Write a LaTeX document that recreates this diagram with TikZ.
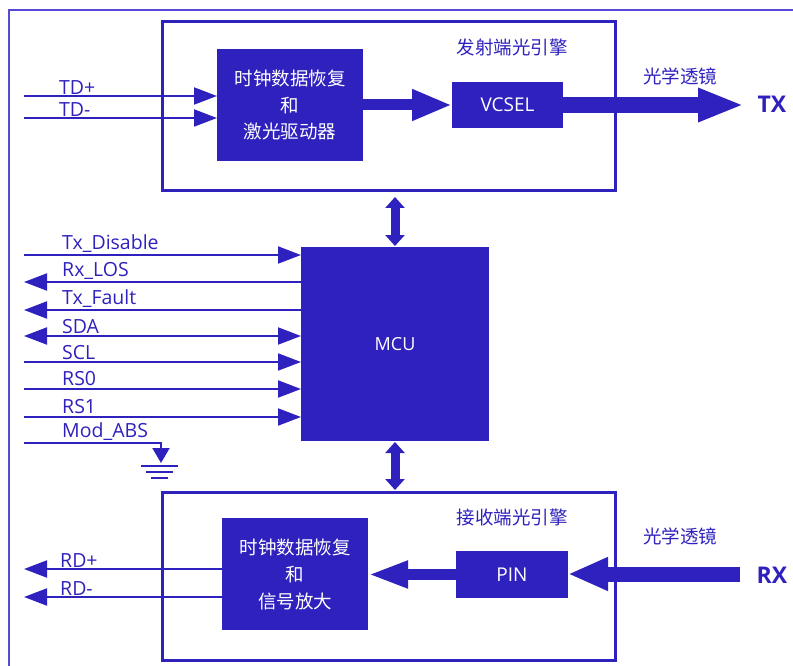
\documentclass[tikz,border=0pt]{standalone}
\usepackage{fontspec}
\setmainfont{Open Sans}
\newfontfamily\cjk{Noto Sans CJK SC}
\usetikzlibrary{arrows.meta}
\definecolor{mainblue}{RGB}{47,33,189}
\definecolor{frameblue}{RGB}{84,74,212}
\begin{document}
\begin{tikzpicture}[x=1pt,y=-1pt,
  modbox/.style={draw=mainblue, line width=3pt, inner sep=0pt, outer sep=0pt},
  blk/.style={fill=mainblue, text=white, inner sep=0pt, outer sep=0pt, align=center, font=\cjk\fontsize{18.5}{26.5}\selectfont},
  latinblk/.style={font=\fontsize{19}{22}\selectfont},
  lbl/.style={text=mainblue, inner sep=0pt, font=\fontsize{19.5}{22}\selectfont, anchor=base west},
  clbl/.style={text=mainblue, inner sep=0pt, font=\cjk\fontsize{18.5}{22}\selectfont},
  boldlbl/.style={text=mainblue, inner sep=0pt, font=\bfseries\fontsize{23}{26}\selectfont},
  sigtip/.tip={Triangle[length=23pt,width=17pt]},
  sig/.style={draw=mainblue, line width=2pt, -sigtip},
  sigl/.style={draw=mainblue, line width=2pt, sigtip-},
  sigb/.style={draw=mainblue, line width=2pt, sigtip-sigtip},
  bustip/.tip={Triangle[length=11pt,width=19pt]},
  bus/.style={draw=mainblue, line width=9pt, bustip-bustip},
]
\useasboundingbox (0,0) rectangle (793,666);
% outer frame
\draw[frameblue, line width=1.5pt] (9,666) -- (9,10) -- (793,10);

% ---------- TX engine ----------
\node[modbox, minimum width=453pt, minimum height=169pt] (txe) at (388.5,106.5) {};
\node[blk, minimum width=146pt, minimum height=112pt] (cdr1) at (290,105) {时钟数据恢复\\和\\激光驱动器};
\node[blk, latinblk, minimum width=111pt, minimum height=46pt] (vcsel) at (507.5,105) {VCSEL};
\node[clbl] (txt) at (512,47) {发射端光引擎};
\node[clbl] (lens1) at (680,76) {光学透镜};
\node[boldlbl] (tx) at (772,104) {TX};

\coordinate (tdp) at (24,96);
\coordinate (tdm) at (24,118);
\draw[sig] (tdp) -- (tdp -| cdr1.west);
\draw[sig] (tdm) -- (tdm -| cdr1.west);
\node[lbl] (ltdp) at (59,95) {TD+};
\node[lbl] (ltdm) at (59,117) {TD-};

\draw[draw=mainblue, line width=11pt, -{Triangle[length=40pt,width=29pt]}] (cdr1.east) -- (vcsel.west);
\coordinate (txend) at (744,105);
\draw[draw=mainblue, line width=16pt, -{Triangle[length=46pt,width=31pt]}] (vcsel.east) -- (txend);

% ---------- MCU ----------
\node[blk, font=\fontsize{18}{22}\selectfont, minimum width=188pt, minimum height=194pt] (mcu) at (395,344) {MCU};
\draw[bus, shorten <=6pt, shorten >=1pt] (txe.south -| mcu.north) -- (mcu.north);

\coordinate (ctxd) at (24,255);
\coordinate (crxlos) at (24,282);
\coordinate (ctxf) at (24,310);
\coordinate (csda) at (24,336);
\coordinate (cscl) at (24,362);
\coordinate (crs0) at (24,389);
\coordinate (crs1) at (24,417);
\coordinate (cmod) at (24,443);
\draw[sig] (ctxd) -- (ctxd -| mcu.west);
\draw[sigl] (crxlos) -- (crxlos -| mcu.west);
\draw[sigl] (ctxf) -- (ctxf -| mcu.west);
\draw[sigb] (csda) -- (csda -| mcu.west);
\draw[sig] (cscl) -- (cscl -| mcu.west);
\draw[sig] (crs0) -- (crs0 -| mcu.west);
\draw[sig] (crs1) -- (crs1 -| mcu.west);
\node[lbl] (ltxd) at (62,249) {Tx\_Disable};
\node[lbl] (lrxlos) at (62,276) {Rx\_LOS};
\node[lbl] (ltxf) at (62,304) {Tx\_Fault};
\node[lbl] (lsda) at (62,333) {SDA};
\node[lbl] (lscl) at (62,359) {SCL};
\node[lbl] (lrs0) at (62,385) {RS0};
\node[lbl] (lrs1) at (62,413) {RS1};
\node[lbl] (lmod) at (62,437) {Mod\_ABS};

% ground
\coordinate (gnd) at (161,463);
\draw[draw=mainblue, line width=2pt, -{Triangle[length=15pt,width=17pt]}] (cmod) -| (gnd);
\draw[mainblue, line width=2pt] (141,466) -- (178,466) (146,472) -- (173,472) (151,478) -- (168,478);

% ---------- RX engine ----------
\node[modbox, minimum width=453pt, minimum height=168pt] (rxe) at (388.5,576) {};
\draw[bus, shorten <=1pt, shorten >=2pt] (mcu.south) -- (mcu.south |- rxe.north);
\node[blk, font=\cjk\fontsize{18.5}{27}\selectfont, minimum width=146pt, minimum height=112pt] (cdr2) at (295,574) {时钟数据恢复\\和\\信号放大};
\node[blk, latinblk, minimum width=112pt, minimum height=47pt] (pin) at (512,574.5) {PIN};
\node[clbl] (rxt) at (512,517) {接收端光引擎};
\node[clbl] (lens2) at (680,536) {光学透镜};
\node[boldlbl] (rx) at (772,575) {RX};

\coordinate (rxstart) at (740,574);
\draw[draw=mainblue, line width=15pt, -{Triangle[length=40pt,width=31pt]}] (rxstart) -- (rxstart -| pin.east);
\draw[draw=mainblue, line width=11pt, -{Triangle[length=40pt,width=25pt]}] (pin.west) -- (pin.west -| cdr2.east);

\coordinate (rdp) at (24,569);
\coordinate (rdm) at (24,597);
\draw[sigl] (rdp) -- (rdp -| cdr2.west);
\draw[sigl] (rdm) -- (rdm -| cdr2.west);
\node[lbl] (lrdp) at (60,567) {RD+};
\node[lbl] (lrdm) at (60,595) {RD-};
\end{tikzpicture}
\end{document}
